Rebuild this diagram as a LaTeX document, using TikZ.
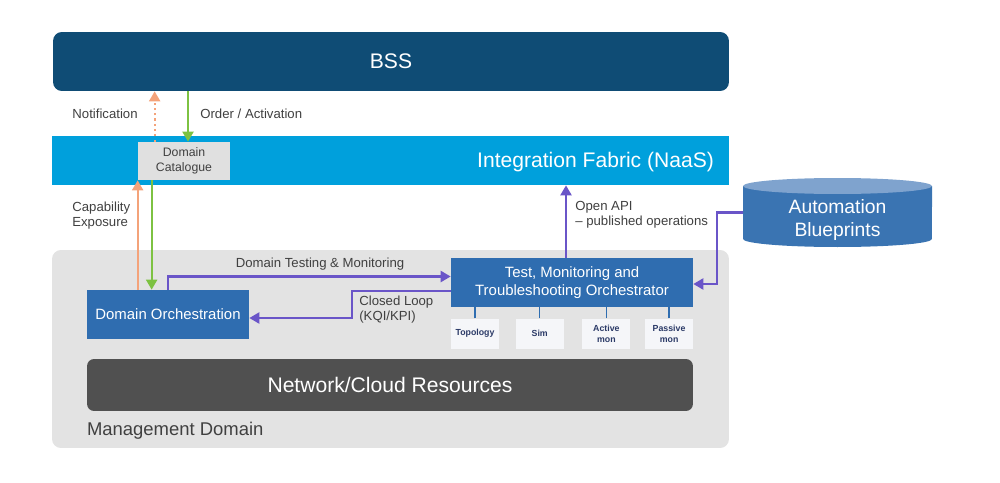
\documentclass[tikz,border=0pt]{standalone}
\usepackage{fontspec}
\setmainfont{Liberation Sans}
\usepackage{xcolor}
\definecolor{cBss}{HTML}{0F4C75}
\definecolor{cFabric}{HTML}{00A0DC}
\definecolor{cMain}{HTML}{2F6DB0}
\definecolor{cCylTop}{HTML}{7FA3CE}
\definecolor{cCyl}{HTML}{3A74B2}
\definecolor{cArea}{HTML}{E3E3E3}
\definecolor{cRes}{HTML}{505050}
\definecolor{cCat}{HTML}{E0E0E0}
\definecolor{cTool}{HTML}{F5F6F9}
\definecolor{cToolText}{HTML}{2B3A67}
\definecolor{cGray}{HTML}{404040}
\definecolor{cLoop}{HTML}{6A55C8}
\definecolor{cUp}{HTML}{F4A37A}
\definecolor{cDown}{HTML}{7DC242}
\usepackage{tikz}
\usetikzlibrary{positioning,arrows.meta,calc}
\tikzset{
  node-band/.style={inner sep=0pt,text=white,
    font=\fontsize{12}{14}\selectfont},
  node-box/.style={inner sep=0pt,fill=cMain,text=white,align=center,
    minimum height=0.98cm,font=\fontsize{8.5}{10}\selectfont},
  node-cat/.style={inner sep=0pt,fill=cCat,text=cGray,align=center,
    font=\fontsize{7}{8.6}\selectfont},
  node-tool/.style={inner sep=0pt,fill=cTool,text=cToolText,align=center,
    minimum width=0.96cm,minimum height=0.6cm,
    font=\fontsize{5}{6.2}\selectfont\bfseries},
  node-label/.style={inner sep=0pt,text=cGray,align=left,
    font=\fontsize{7.5}{8.6}\selectfont},
  arrow-loop/.style={-{Triangle[length=2mm,width=2.2mm]},line width=1.3pt,draw=cLoop},
  arrow-up/.style={-{Triangle[length=2mm,width=2.2mm]},line width=1.2pt,draw=cUp},
  arrow-notify/.style={arrow-up,dash pattern=on 1.2pt off 1.8pt},
  arrow-down/.style={-{Triangle[length=2mm,width=2.2mm]},line width=1.2pt,draw=cDown},
  link/.style={draw=cMain,line width=0.8pt},
}

\begin{document}
\begin{tikzpicture}[x=0.02cm,y=-0.02cm]
  \useasboundingbox (0,0) rectangle (1000,483);

  % bands
  \node[node-band,fill=cBss,rounded corners=5pt,minimum width=13.52cm,minimum height=1.18cm]
    (bss) at (391,61.5) {BSS};
  \node[node-band,fill=cFabric,minimum width=13.54cm,minimum height=0.98cm]
    (fabric) at (390.5,160.5) {};
  \node[node-band,anchor=east] (fabric-label) at ([xshift=-0.3cm,yshift=-0.04cm]fabric.east)
    {Integration Fabric (NaaS)};
  \node[node-cat,minimum width=1.84cm,minimum height=0.76cm] (cat) at (184,161)
    {Domain\\Catalogue};

  % management domain
  \node[inner sep=0pt,fill=cArea,rounded corners=5pt,minimum width=13.54cm,minimum height=3.96cm]
    (mgmt) at (390.5,349) {};
  \node[node-band,text=cGray,anchor=west,font=\fontsize{10.5}{12}\selectfont] (mgmt-label)
    at ([xshift=0.7cm,yshift=0.36cm]mgmt.south west) {Management Domain};
  \node[node-box,minimum width=3.24cm] (orch) at (168,314.5) {Domain Orchestration};
  \node[node-box,minimum width=4.84cm] (tmt) at (572,282.5)
    {Test, Monitoring and\\Troubleshooting Orchestrator};
  \node[node-band,fill=cRes,rounded corners=4pt,minimum width=12.12cm,minimum height=1.04cm]
    (res) at (390,385) {Network/Cloud Resources};

  % tools below the orchestrator
  \node[node-tool,anchor=north west] (topo) at ([yshift=-0.22cm]tmt.south west) {Topology};
  \node[node-tool,right=0.32cm of topo] (sim) {Sim};
  \node[node-tool,right=0.36cm of sim] (active) {Active\\mon};
  \node[node-tool,right=0.28cm of active] (passive) {Passive\\mon};
  \foreach \t in {topo,sim,active,passive}
    \draw[link] (\t.north) -- (\t.north |- tmt.south);

  % automation blueprints (cylinder)
  \fill[cCyl] (743,186) -- (743,239)
    arc[start angle=180,end angle=360,x radius=1.89cm,y radius=0.16cm]
    -- (932,186) -- cycle;
  \fill[cCylTop] (837.5,186) ellipse[x radius=1.89cm,y radius=0.16cm];
  \node[inner sep=0pt,minimum width=3.78cm,minimum height=1.38cm] (blue) at (837.5,212.5) {};
  \node[node-band,align=center,font=\fontsize{11}{13}\selectfont] (blue-label)
    at (837.5,220) {Automation\\Blueprints};

  % connectors
  \draw[arrow-notify] ([xshift=0.34cm]cat.north west) -- ([xshift=0.34cm]cat.north west |- bss.south);
  \draw[arrow-down] ([xshift=0.08cm]cat.north |- bss.south) -- ([xshift=0.08cm]cat.north);
  \draw[arrow-up] ([xshift=1.02cm]orch.north west) -- ([xshift=1.02cm]orch.north west |- cat.south);
  \draw[arrow-down] ([xshift=1.3cm]orch.north west |- cat.south) -- ([xshift=1.3cm]orch.north west);
  \draw[arrow-loop] ([xshift=1.62cm]orch.north west) |- ([yshift=0.12cm]tmt.west);
  \draw[arrow-loop] ([yshift=-0.17cm]tmt.west) -- ++(-1.98cm,0) |- ([yshift=-0.07cm]orch.east);
  \draw[arrow-loop] ([xshift=-0.12cm]tmt.north) -- ([xshift=-0.12cm]tmt.north |- fabric.south);
  \draw[arrow-loop] (blue.west) -- ++(-0.52cm,0) |- ([yshift=-0.03cm]tmt.east);

  % labels
  \node[node-label,anchor=east] (lbl-notify) at (138,114) {Notification};
  \node[node-label,anchor=west] (lbl-order) at (200,114) {Order / Activation};
  \node[node-label,anchor=west] (lbl-expose) at (72,216) {Capability\\Exposure};
  \node[node-label] (lbl-test) at (320,264) {Domain Testing \& Monitoring};
  \node[node-label,anchor=west] (lbl-loop) at (359,310) {Closed Loop\\(KQI/KPI)};
  \node[node-label,anchor=west] (lbl-api) at (575,215) {Open API\\– published operations};
\end{tikzpicture}
\end{document}
